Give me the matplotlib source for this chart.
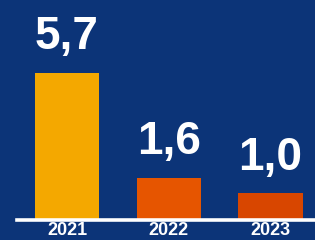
import matplotlib
matplotlib.use("Agg")
import matplotlib.pyplot as plt

years = ["2021", "2022", "2023"]
values = [5.7, 1.6, 1.0]
labels = ["5,7", "1,6", "1,0"]
colors = ["#F4A800", "#E65500", "#D84600"]

bg = "#0C3478"
fig = plt.figure(figsize=(3.15, 2.4), dpi=100, facecolor=bg)
ax = fig.add_axes([0, 0, 1, 1])
ax.set_facecolor(bg)

x = list(range(len(years)))
ax.bar(x, values, width=0.63, color=colors, zorder=2)
ax.set_xlim(-0.658, 2.437)
ax.set_ylim(-0.82, 8.555)
ax.axhline(-0.04, xmin=17/315, xmax=1, color="white", linewidth=2.6, zorder=3)

for xi, v, lab in zip(x, values, labels):
    ax.annotate(lab, (xi, v), xytext=(0, 17), textcoords="offset points",
                ha="center", va="baseline", color="white", fontsize=33,
                fontweight="bold", family="Liberation Sans", zorder=4)

for xi, yr in zip(x, years):
    ax.annotate(yr, (xi, 0), xytext=(0, -14.6), textcoords="offset points",
                ha="center", va="bottom", color="white", fontsize=13,
                fontweight="bold", family="Liberation Sans", zorder=4,
                annotation_clip=False)

ax.axis("off")
fig.savefig("out.png", dpi=100, facecolor=bg)
